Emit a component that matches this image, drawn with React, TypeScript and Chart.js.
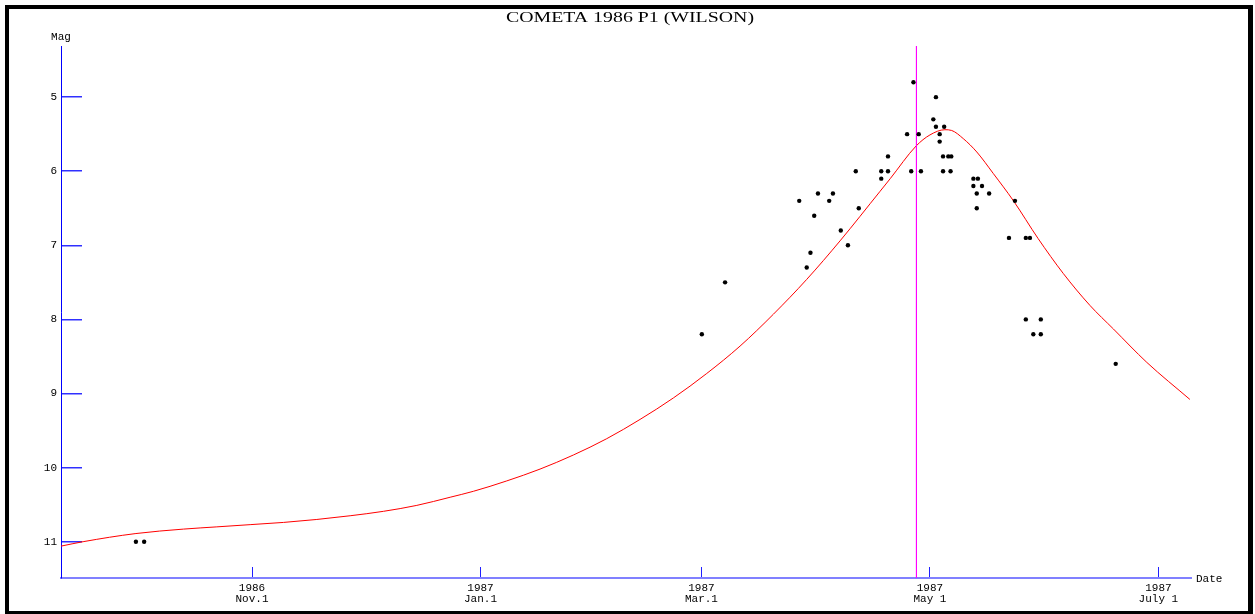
import React, { useEffect, useRef } from "react";
import { Chart, registerables } from "chart.js";

Chart.register(...registerables);

// Days counted from 1986 Nov. 1
const xTickDays = [0, 61, 120, 181, 242];
const xTickYears = ["1986", "1987", "1987", "1987", "1987"];
const xTickDates = ["Nov.1", "Jan.1", "Mar.1", "May 1", "July 1"];
const yTicks = [5, 6, 7, 8, 9, 10, 11];

const xMin = -51;
const xMax = 250.7;
const yMin = 4.31;
const yMax = 11.49;

const perihelionDay = 177.4;

const obsDays = [
  -31.0, -28.8, 120.1, 126.3, 146.1, 148.1, 149.1, 150.1, 151.1, 154.1,
  155.1, 157.2, 159.1, 161.2, 162.0, 168.0, 168.0, 169.8, 169.8, 174.9,
  176.0, 176.6, 178.0, 178.6, 181.9, 182.6, 182.6, 183.6, 183.6, 184.5,
  184.5, 184.8, 185.9, 186.7, 186.5, 192.6, 193.8, 192.6, 194.9, 193.5,
  196.8, 193.5, 202.1, 203.7, 206.6, 207.7, 206.6, 210.6, 208.6, 210.6,
  230.6,
];
const obsMags = [
  11.0, 11.0, 8.2, 7.5, 6.4, 7.3, 7.1, 6.6, 6.3, 6.4,
  6.3, 6.8, 7.0, 6.0, 6.5, 6.0, 6.1, 5.8, 6.0, 5.5,
  6.0, 4.8, 5.5, 6.0, 5.3, 5.0, 5.4, 5.5, 5.6, 5.8,
  6.0, 5.4, 5.8, 5.8, 6.0, 6.1, 6.1, 6.2, 6.2, 6.3,
  6.3, 6.5, 6.9, 6.4, 6.9, 6.9, 8.0, 8.0, 8.2, 8.2,
  8.6,
];

const curveDays = [
  -51.0, -45.1, -31.0, -18.3, -9.4, -0.5, 8.4, 17.3, 26.2, 35.1,
  44.0, 52.9, 59.1, 68.0, 76.9, 85.8, 94.7, 103.6, 112.5, 121.4,
  130.3, 139.2, 148.1, 157.0, 167.7, 170.4, 177.3, 181.0, 185.0, 186.8,
  189.9, 193.5, 197.9, 203.3, 209.9, 216.6, 223.7, 230.0, 238.9, 250.4,
];
const curveMags = [
  11.06, 11.0, 10.89, 10.83, 10.8, 10.77, 10.74, 10.7, 10.65, 10.59,
  10.51, 10.4, 10.32, 10.18, 10.02, 9.83, 9.61, 9.35, 9.06, 8.73,
  8.36, 7.93, 7.46, 6.94, 6.27, 6.1, 5.66, 5.51, 5.44, 5.45,
  5.56, 5.74, 6.03, 6.4, 6.91, 7.38, 7.81, 8.13, 8.58, 9.08,
];

const MONO = "'Liberation Mono', 'DejaVu Sans Mono', monospace";

const framePlugin = {
  id: "frame",
  beforeDraw(chart: any) {
    const ctx = chart.ctx;
    ctx.save();
    ctx.fillStyle = "#ffffff";
    ctx.fillRect(0, 0, chart.width, chart.height);
    ctx.restore();
  },
  afterDraw(chart: any) {
    const ctx = chart.ctx;
    const area = chart.chartArea;
    ctx.save();
    // outer frame
    ctx.fillStyle = "#000000";
    ctx.fillRect(5, 5, 4, 609);
    ctx.fillRect(5, 5, 1248, 4);
    ctx.fillRect(1248, 5, 5, 609);
    ctx.fillRect(5, 611, 1248, 3);

    // title
    const title = "COMETA 1986 P1 (WILSON)";
    ctx.font = "14px 'Liberation Serif', 'DejaVu Serif', serif";
    ctx.fillStyle = "#000000";
    ctx.textAlign = "center";
    ctx.textBaseline = "middle";
    const w = ctx.measureText(title).width;
    const sx = 248 / w;
    ctx.save();
    ctx.translate(630, 18.5);
    ctx.scale(sx, 1);
    ctx.fillText(title, 0, 0);
    ctx.restore();

    // axis names
    ctx.font = "11px " + MONO;
    ctx.textAlign = "center";
    ctx.fillText("Mag", area.left, 37);
    ctx.textAlign = "left";
    ctx.fillText("Date", area.right + 5, 579);
    ctx.restore();
  },
};

export default function App() {
  const ref = useRef<HTMLCanvasElement | null>(null);

  useEffect(() => {
    if (!ref.current) return;
    const chart = new Chart(ref.current, {
      type: "scatter",
      data: {
        datasets: [
          {
            label: "obs",
            data: obsDays.map((d, i) => ({ x: d, y: obsMags[i] })),
            backgroundColor: "#000000",
            borderColor: "#000000",
            borderWidth: 0,
            pointRadius: 2.2,
            showLine: false,
          },
          {
            label: "perihelion",
            data: [
              { x: perihelionDay, y: yMin },
              { x: perihelionDay, y: yMax },
            ],
            borderColor: "#ff00ff",
            borderWidth: 1,
            pointRadius: 0,
            showLine: true,
          },
          {
            label: "curve",
            data: curveDays.map((d, i) => ({ x: d, y: curveMags[i] })),
            borderColor: "#ff0000",
            borderWidth: 1,
            pointRadius: 0,
            showLine: true,
            cubicInterpolationMode: "monotone",
          } as any,
        ],
      },
      options: {
        animation: false,
        responsive: false,
        maintainAspectRatio: false,
        devicePixelRatio: 1,
        layout: { padding: { left: 0, top: 46, right: 64, bottom: 0 } },
        plugins: {
          legend: { display: false },
          tooltip: { enabled: false },
          title: { display: false },
        },
        scales: {
          x: {
            type: "linear",
            position: "bottom",
            min: xMin,
            max: xMax,
            afterFit: (s: any) => {
              s.height = 36;
            },
            afterBuildTicks: (s: any) => {
              s.ticks = xTickDays.map((v) => ({ value: v }));
            },
            ticks: {
              autoSkip: false,
              maxRotation: 0,
              minRotation: 0,
              padding: 15.5,
              color: "#000000",
              font: { family: MONO, size: 11, lineHeight: 1 },
              callback: (v: any) => {
                const i = xTickDays.indexOf(Number(v));
                return i >= 0 ? [xTickYears[i], xTickDates[i]] : "";
              },
            },
            grid: {
              drawOnChartArea: false,
              drawTicks: true,
              tickLength: -11,
              color: "#2020ff",
              tickColor: "#2020ff",
              lineWidth: 1,
            },
            border: { display: true, color: "#8080ff", width: 2 },
          },
          y: {
            type: "linear",
            position: "left",
            reverse: true,
            min: yMin,
            max: yMax,
            afterFit: (s: any) => {
              s.width = 61;
            },
            afterBuildTicks: (s: any) => {
              s.ticks = yTicks.map((v) => ({ value: v }));
            },
            ticks: {
              padding: 25,
              color: "#000000",
              font: { family: MONO, size: 11 },
              callback: (v: any) => String(v),
            },
            grid: {
              drawOnChartArea: false,
              drawTicks: true,
              tickLength: -21,
              color: "#3030ff",
              tickColor: "#3030ff",
              lineWidth: 1.5,
              tickWidth: 1.5,
            },
            border: { display: true, color: "#0000ff", width: 1 },
          },
        },
      } as any,
      plugins: [framePlugin],
    });
    return () => chart.destroy();
  }, []);

  return (
    <div style={{ position: "absolute", left: 0, top: 0, width: 1255, height: 614 }}>
      <canvas ref={ref} width={1255} height={614} style={{ display: "block" }} />
    </div>
  );
}
